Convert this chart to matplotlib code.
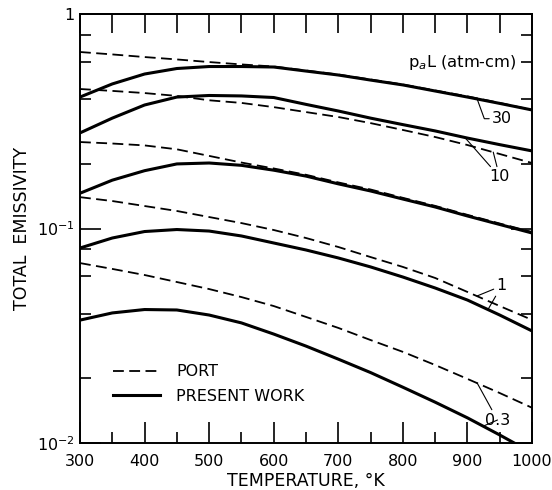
import matplotlib
matplotlib.use("Agg")
import matplotlib.pyplot as plt
from matplotlib.ticker import FixedLocator, FuncFormatter, MultipleLocator
import numpy as np

plt.rcParams["font.family"] = ["DejaVu Sans"]

temperature = [300, 350, 400, 450, 500, 550, 600, 650, 700, 750, 800, 850, 900, 950, 1000]

# Port (dashed) and present work (solid), keyed by pressure path length (atm-cm)
port = {
    "30": [0.665, 0.648, 0.630, 0.614, 0.597, 0.582, 0.569, 0.545, 0.522, 0.495, 0.469, 0.440, 0.413, 0.385, 0.357],
    "10": [0.447, 0.438, 0.428, 0.415, 0.396, 0.385, 0.368, 0.349, 0.331, 0.310, 0.288, 0.267, 0.245, 0.2225, 0.202],
    "3": [0.253, 0.249, 0.244, 0.234, 0.218, 0.203, 0.1905, 0.178, 0.164, 0.152, 0.139, 0.1275, 0.1158, 0.1055, 0.0963],
    "1": [0.140, 0.1343, 0.1273, 0.1207, 0.1131, 0.106, 0.0984, 0.0903, 0.082, 0.0736, 0.0662, 0.0588, 0.0506, 0.0435, 0.0375],
    "0.3": [0.069, 0.0648, 0.0607, 0.0563, 0.0522, 0.0479, 0.0435, 0.0387, 0.0344, 0.0302, 0.0266, 0.0231, 0.0199, 0.0171, 0.0146],
}
present = {
    "30": [0.410, 0.472, 0.525, 0.557, 0.569, 0.569, 0.566, 0.542, 0.5195, 0.492, 0.467, 0.4375, 0.410, 0.383, 0.357],
    "10": [0.279, 0.327, 0.3765, 0.410, 0.417, 0.415, 0.408, 0.379, 0.353, 0.327, 0.305, 0.285, 0.264, 0.246, 0.230],
    "3": [0.146, 0.168, 0.186, 0.200, 0.202, 0.197, 0.187, 0.1755, 0.1615, 0.1496, 0.1372, 0.126, 0.1144, 0.1044, 0.0953],
    "1": [0.0811, 0.0903, 0.0968, 0.0989, 0.0973, 0.0923, 0.0856, 0.0794, 0.0729, 0.0662, 0.0594, 0.0528, 0.0464, 0.0395, 0.0333],
    "0.3": [0.0374, 0.0404, 0.0419, 0.0417, 0.0395, 0.0363, 0.0322, 0.0283, 0.0246, 0.0213, 0.0182, 0.0155, 0.0131, 0.0109, 0.0090],
}

fig = plt.figure(figsize=(5.52, 4.90), dpi=100)
ax = fig.add_axes([80 / 552, 1 - 443 / 490, 452 / 552, 429 / 490])

for key in port:
    ax.plot(temperature, port[key], color="black", lw=1.3, dashes=(6, 3),
            label="PORT" if key == "30" else None)
    ax.plot(temperature, present[key], color="black", lw=2.2,
            label="PRESENT WORK" if key == "30" else None)

ax.set_yscale("log")
ax.set_xlim(300, 1000)
ax.set_ylim(0.01, 1)

ax.xaxis.set_major_locator(MultipleLocator(100))
ax.xaxis.set_minor_locator(MultipleLocator(50))
ax.yaxis.set_major_locator(FixedLocator([0.01, 0.1, 1]))
ax.yaxis.set_minor_locator(FixedLocator([0.02, 0.04, 0.06, 0.08, 0.2, 0.4, 0.6, 0.8]))
ax.yaxis.set_major_formatter(FuncFormatter(
    lambda v, p: "1" if v >= 1 else "10$^{%d}$" % round(np.log10(v))))
ax.yaxis.set_minor_formatter(FuncFormatter(lambda v, p: ""))

ax.tick_params(which="both", direction="in", right=True, width=1.2, labelsize=11.5)
ax.tick_params(which="major", length=15)
ax.tick_params(which="minor", length=8)
ax.tick_params(axis="x", pad=8)
ax.tick_params(axis="y", pad=4)

top = ax.secondary_xaxis("top")
top.xaxis.set_major_locator(MultipleLocator(50))
top.tick_params(direction="in", length=14, width=1.2, labeltop=False)

for s in list(ax.spines.values()) + list(top.spines.values()):
    s.set_linewidth(1.4)

ax.set_xlabel("TEMPERATURE, °K", fontsize=12.5, labelpad=2)
ax.set_ylabel("TOTAL  EMISSIVITY", fontsize=12.5, labelpad=4)

ax.legend(loc="lower left", bbox_to_anchor=(0.073, 0.091), frameon=False,
          fontsize=11.5, handlelength=2.95, handletextpad=1.0, labelspacing=0.6,
          borderpad=0, borderaxespad=0)

ax.text(977, 0.591, "p$_a$L (atm-cm)", ha="right", va="center", fontsize=11.8)

line = dict(arrowstyle="-", color="black", lw=0.8, shrinkA=0, shrinkB=0)

def at(series, t):
    return float(np.interp(t, temperature, series))

ax.annotate("30", xy=(915, at(present["30"], 915)), xytext=(938, 0.325),
            fontsize=11.5, va="center",
            arrowprops=dict(line, connectionstyle="angle,angleA=0,angleB=-70,rad=0"))
for series, t in ((present["10"], 896), (port["10"], 940)):
    ax.annotate("10", xy=(t, at(series, t)), xytext=(934, 0.174),
                fontsize=11.5, va="center", arrowprops=line,
                color="none" if series is present["10"] else "black")
for series, t in ((port["1"], 915), (present["1"], 932)):
    ax.annotate("1", xy=(t, at(series, t)), xytext=(945, 0.054),
                fontsize=11.5, va="center", arrowprops=line,
                color="none" if series is port["1"] else "black")
for series, t in ((port["0.3"], 915), (present["0.3"], 925)):
    ax.annotate("0.3", xy=(t, at(series, t)), xytext=(927, 0.0128),
                fontsize=11.5, va="center", arrowprops=line,
                color="none" if series is port["0.3"] else "black")

fig.savefig("out.png", dpi=100)
